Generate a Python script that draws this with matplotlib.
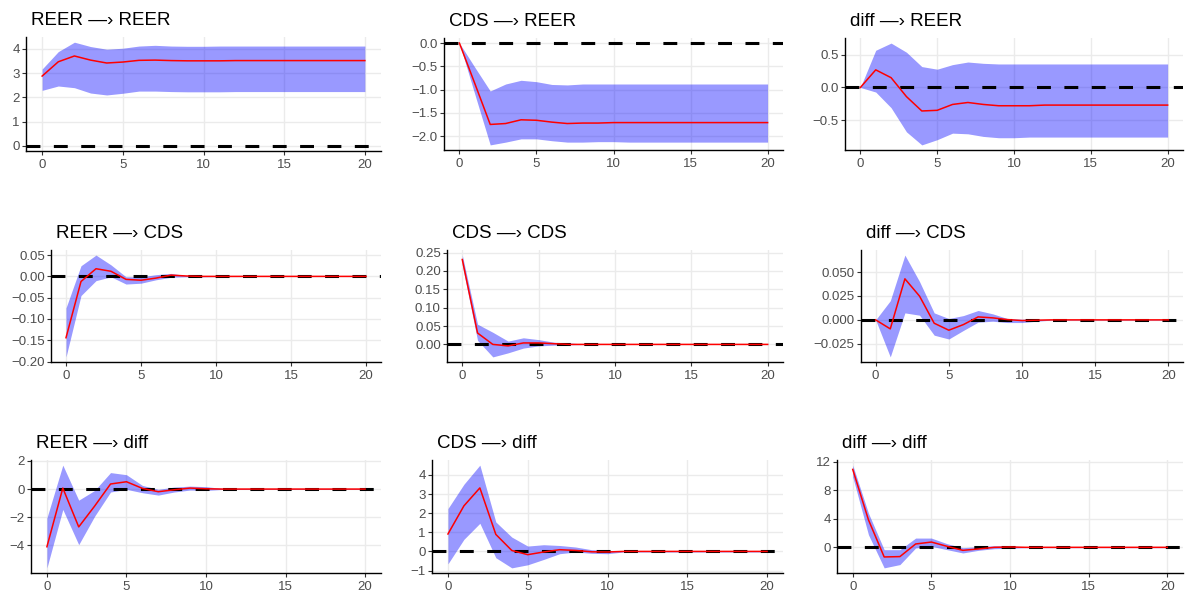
import matplotlib
matplotlib.use('Agg')

import matplotlib.pyplot as plt
import matplotlib.ticker as mticker
from matplotlib.transforms import ScaledTranslation

plt.rcParams['font.family'] = ['Liberation Sans', 'DejaVu Sans']
plt.rcParams['lines.scale_dashes'] = False

# ==========================================
# data: impulse responses, 21 horizons
# ==========================================
horizon = [0, 1, 2, 3, 4, 5, 6, 7, 8, 9, 10, 11, 12, 13, 14, 15, 16, 17, 18, 19, 20]

titles = ["REER \u2014\u203a REER", "CDS \u2014\u203a REER", "diff \u2014\u203a REER",
          "REER \u2014\u203a CDS", "CDS \u2014\u203a CDS", "diff \u2014\u203a CDS",
          "REER \u2014\u203a diff", "CDS \u2014\u203a diff", "diff \u2014\u203a diff"]

# REER -> REER
reer_reer = [2.88, 3.47, 3.71, 3.54, 3.42, 3.46, 3.53, 3.54, 3.52, 3.51, 3.51,
             3.51, 3.52, 3.52, 3.52, 3.52, 3.52, 3.52, 3.52, 3.52, 3.52]
reer_reer_hi = [3.17, 3.89, 4.28, 4.10, 3.99, 4.03, 4.12, 4.15, 4.12, 4.11, 4.11,
                4.12, 4.12, 4.12, 4.12, 4.12, 4.12, 4.12, 4.12, 4.12, 4.12]
reer_reer_lo = [2.29, 2.47, 2.40, 2.18, 2.10, 2.17, 2.26, 2.26, 2.24, 2.23, 2.23,
                2.23, 2.24, 2.24, 2.24, 2.24, 2.24, 2.24, 2.24, 2.24, 2.24]

# CDS -> REER
cds_reer = [0.0, -0.87, -1.75, -1.73, -1.65, -1.66, -1.70, -1.73, -1.72, -1.72, -1.71,
            -1.71, -1.71, -1.71, -1.71, -1.71, -1.71, -1.71, -1.71, -1.71, -1.71]
cds_reer_hi = [0.0, -0.52, -1.03, -0.88, -0.80, -0.83, -0.89, -0.90, -0.88, -0.88, -0.88,
               -0.88, -0.88, -0.88, -0.88, -0.88, -0.88, -0.88, -0.88, -0.88, -0.88]
cds_reer_lo = [0.0, -1.10, -2.19, -2.13, -2.06, -2.06, -2.10, -2.13, -2.13, -2.12, -2.12,
               -2.13, -2.13, -2.13, -2.13, -2.13, -2.13, -2.13, -2.13, -2.13, -2.13]

# diff -> REER
diff_reer = [0.0, 0.27, 0.15, -0.14, -0.36, -0.35, -0.26, -0.23, -0.26, -0.28, -0.28,
             -0.28, -0.27, -0.27, -0.27, -0.27, -0.27, -0.27, -0.27, -0.27, -0.27]
diff_reer_hi = [0.0, 0.57, 0.68, 0.54, 0.32, 0.28, 0.35, 0.39, 0.37, 0.36, 0.36,
                0.36, 0.36, 0.36, 0.36, 0.36, 0.36, 0.36, 0.36, 0.36, 0.36]
diff_reer_lo = [0.0, -0.07, -0.31, -0.68, -0.88, -0.80, -0.70, -0.71, -0.75, -0.77, -0.77,
                -0.76, -0.76, -0.76, -0.76, -0.76, -0.76, -0.76, -0.76, -0.76, -0.76]

# REER -> CDS
reer_cds = [-0.144, -0.012, 0.018, 0.012, -0.007, -0.009, -0.004, 0.003, 0.001, 0.0, 0.0,
            0.0, 0.0, 0.0, 0.0, 0.0, 0.0, 0.0, 0.0, 0.0, 0.0]
reer_cds_hi = [-0.074, 0.025, 0.050, 0.027, -0.001, -0.001, 0.004, 0.007, 0.002, 0.001, 0.0005,
               0.0005, 0.0003, 0.0003, 0.0003, 0.0003, 0.0003, 0.0003, 0.0003, 0.0003, 0.0003]
reer_cds_lo = [-0.189, -0.045, -0.010, -0.001, -0.018, -0.016, -0.008, -0.002, -0.001, -0.001, -0.0005,
               -0.0005, -0.0003, -0.0003, -0.0003, -0.0003, -0.0003, -0.0003, -0.0003, -0.0003, -0.0003]

# CDS -> CDS
cds_cds = [0.231, 0.031, 0.0, -0.004, 0.004, 0.004, 0.002, 0.0, 0.0, 0.0, 0.0,
           0.0, 0.0, 0.0, 0.0, 0.0, 0.0, 0.0, 0.0, 0.0, 0.0]
cds_cds_hi = [0.243, 0.055, 0.033, 0.009, 0.018, 0.013, 0.006, 0.004, 0.001, 0.0005, 0.0003,
              0.0002, 0.0002, 0.0002, 0.0002, 0.0002, 0.0002, 0.0002, 0.0002, 0.0002, 0.0002]
cds_cds_lo = [0.216, 0.011, -0.034, -0.023, -0.010, -0.004, -0.002, -0.001, -0.0005, -0.0003, -0.0003,
              -0.0002, -0.0002, -0.0002, -0.0002, -0.0002, -0.0002, -0.0002, -0.0002, -0.0002, -0.0002]

# diff -> CDS
diff_cds = [0.0, -0.0094, 0.0429, 0.0248, -0.0035, -0.0108, -0.0049, 0.0031, 0.0021, 0.0003, -0.0007,
            -0.0003, 0.0, 0.0, 0.0, 0.0, 0.0, 0.0, 0.0, 0.0, 0.0]
diff_cds_hi = [0.0, 0.020, 0.0677, 0.040, 0.0073, 0.0014, 0.0045, 0.0098, 0.0063, 0.0014, 0.0007,
               0.0005, 0.0002, 0.0002, 0.0002, 0.0002, 0.0002, 0.0002, 0.0002, 0.0002, 0.0002]
diff_cds_lo = [0.0, -0.0387, 0.0073, 0.0049, -0.016, -0.020, -0.011, -0.0024, -0.0014, -0.0028, -0.0028,
               -0.0014, -0.0003, -0.0003, -0.0003, -0.0003, -0.0003, -0.0003, -0.0003, -0.0003, -0.0003]

# REER -> diff
reer_diff = [-4.10, 0.07, -2.69, -1.21, 0.36, 0.52, 0.05, -0.19, -0.05, 0.07, 0.02,
             0.0, 0.0, 0.0, 0.0, 0.0, 0.0, 0.0, 0.0, 0.0, 0.0]
reer_diff_hi = [-2.05, 1.70, -0.79, -0.10, 1.17, 1.02, 0.26, -0.02, 0.14, 0.21, 0.17,
                0.05, 0.04, 0.03, 0.03, 0.03, 0.03, 0.03, 0.03, 0.03, 0.03]
reer_diff_lo = [-5.60, -1.45, -3.95, -1.93, -0.21, -0.02, -0.26, -0.43, -0.21, -0.07, -0.10,
                -0.03, -0.03, -0.03, -0.03, -0.03, -0.03, -0.03, -0.03, -0.03, -0.03]

# CDS -> diff
cds_diff = [0.91, 2.38, 3.32, 0.89, 0.05, -0.17, -0.03, 0.09, 0.05, -0.02, -0.03,
            0.0, 0.0, 0.0, 0.0, 0.0, 0.0, 0.0, 0.0, 0.0, 0.0]
cds_diff_hi = [2.24, 3.51, 4.51, 1.54, 0.75, 0.28, 0.35, 0.31, 0.23, 0.09, 0.05,
               0.02, 0.02, 0.02, 0.02, 0.02, 0.02, 0.02, 0.02, 0.02, 0.02]
cds_diff_lo = [-0.65, 0.63, 1.47, -0.33, -0.86, -0.70, -0.42, -0.12, -0.03, -0.10, -0.12,
               -0.03, -0.03, -0.03, -0.03, -0.03, -0.03, -0.03, -0.03, -0.03, -0.03]

# diff -> diff
diff_diff = [10.93, 3.86, -1.35, -1.30, 0.47, 0.74, 0.14, -0.42, -0.23, 0.0, 0.05,
             0.0, 0.0, 0.0, 0.0, 0.0, 0.0, 0.0, 0.0, 0.0, 0.0]
diff_diff_hi = [11.53, 4.79, -0.33, -0.33, 1.30, 1.30, 0.51, -0.05, 0.09, 0.23, 0.19,
                0.05, 0.05, 0.05, 0.05, 0.05, 0.05, 0.05, 0.05, 0.05, 0.05]
diff_diff_lo = [9.90, 1.77, -2.88, -2.42, -0.09, 0.14, -0.33, -0.79, -0.42, -0.19, -0.14,
                -0.05, -0.05, -0.05, -0.05, -0.05, -0.05, -0.05, -0.05, -0.05, -0.05]

irfs = [reer_reer, cds_reer, diff_reer, reer_cds, cds_cds, diff_cds, reer_diff, cds_diff, diff_diff]
uppers = [reer_reer_hi, cds_reer_hi, diff_reer_hi, reer_cds_hi, cds_cds_hi, diff_cds_hi,
          reer_diff_hi, cds_diff_hi, diff_diff_hi]
lowers = [reer_reer_lo, cds_reer_lo, diff_reer_lo, reer_cds_lo, cds_cds_lo, diff_cds_lo,
          reer_diff_lo, cds_diff_lo, diff_diff_lo]

y_ticks = [[0, 1, 2, 3, 4],
           [-2.0, -1.5, -1.0, -0.5, 0.0],
           [-0.5, 0.0, 0.5],
           [-0.20, -0.15, -0.10, -0.05, 0.00, 0.05],
           [0.00, 0.05, 0.10, 0.15, 0.20, 0.25],
           [-0.025, 0.000, 0.025, 0.050],
           [-4, -2, 0, 2],
           [-1, 0, 1, 2, 3, 4],
           [0, 4, 8, 12]]
y_fmt = ['%d', '%.1f', '%.1f', '%.2f', '%.2f', '%.3f', '%d', '%d', '%d']

# ==========================================
# layout (pixel boxes: left, right, top, bottom)
# ==========================================
W, H = 1188, 598
boxes = [(26, 381, 37, 151), (444, 783, 38, 150), (845, 1183, 38, 150),
         (51, 381, 250, 362), (447, 783, 250, 362), (861, 1183, 250, 362),
         (31, 381, 460, 573), (432, 783, 460, 573), (837, 1183, 460, 573)]


def make_fmt(f):
    return mticker.FuncFormatter(lambda v, pos: (f % v).replace('-', '\u2212'))


fig = plt.figure(figsize=(W / 100, H / 100), dpi=100)

for i in range(9):
    l, r, t, b = boxes[i]
    ax = fig.add_axes([l / W, 1 - b / H, (r - l) / W, (b - t) / H])

    ax.fill_between(horizon, lowers[i], uppers[i], color='blue', alpha=0.4,
                    linewidth=0, zorder=2)
    ax.axhline(0, color='black', linewidth=2.2, dashes=(10, 9.7), zorder=3)
    ax.plot(horizon, irfs[i], color='red', linewidth=1.1, zorder=4)

    lo = min(min(lowers[i]), 0)
    hi = max(max(uppers[i]), 0)
    pad = 0.05 * (hi - lo)
    ax.set_ylim(lo - pad, hi + pad)
    ax.set_xlim(-1, 21)

    ax.set_xticks([0, 5, 10, 15, 20])
    ax.set_yticks(y_ticks[i])
    ax.yaxis.set_major_formatter(make_fmt(y_fmt[i]))

    ax.grid(True, color='#EBEBEB', linewidth=1.0, zorder=0)
    ax.set_axisbelow(True)
    for s in ['top', 'right']:
        ax.spines[s].set_visible(False)
    for s in ['left', 'bottom']:
        ax.spines[s].set_color('black')
        ax.spines[s].set_linewidth(1.0)
    ax.tick_params(length=3, width=0.8, color='#333333', labelsize=9.5,
                   labelcolor='#4D4D4D')
    ax.tick_params(axis='x', pad=2.5)
    ax.tick_params(axis='y', pad=1.5)

    off = ScaledTranslation(5 / 100, 12 / 100, fig.dpi_scale_trans)
    ax.text(0, 1, titles[i], transform=ax.transAxes + off, fontsize=13.5,
            ha='left', va='baseline', color='black')

plt.savefig('out.png', dpi=100)
